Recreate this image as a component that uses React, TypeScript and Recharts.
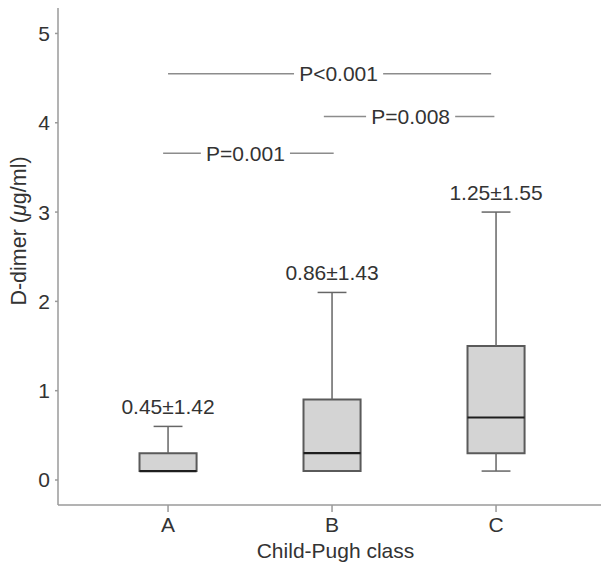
import React from 'react';
import {
  ComposedChart,
  XAxis,
  YAxis,
  Scatter,
  ReferenceArea,
  ReferenceLine,
} from 'recharts';

// Box plot summary per Child-Pugh class
const categories = ['A', 'B', 'C'];
const positions = [1, 2, 3];
const whiskerLow = [0.1, 0.1, 0.1];
const quartile1 = [0.1, 0.1, 0.3];
const medians = [0.1, 0.3, 0.7];
const quartile3 = [0.3, 0.9, 1.5];
const whiskerHigh = [0.6, 2.1, 3.0];
const meanSdLabels = ['0.45±1.42', '0.86±1.43', '1.25±1.55'];

const yTicks = [0, 1, 2, 3, 4, 5];

// significance brackets
const bracketLabels = ['P<0.001', 'P=0.008', 'P=0.001'];
const bracketFrom = [1.0, 1.95, 0.97];
const bracketTo = [2.97, 2.99, 2.01];
const bracketY = [4.55, 4.07, 3.66];

const FONT = '"Liberation Sans", Arial, Helvetica, sans-serif';
const TEXT = '#333333';
const AXIS = '#9a9a9a';
const BOX_FILL = '#d4d4d4';
const BOX_EDGE = '#5a5a5a';
const WHISKER = '#666666';
const BRACKET = '#8c8c8c';
const BOX_HALF = 0.174;
const CAP_HALF = 0.088;

const rows = positions.map((x, i) => ({ x, median: medians[i] }));

function YLabel() {
  const cx = 19;
  const cy = 231;
  return (
    <text
      x={cx}
      y={cy}
      transform={`rotate(-90, ${cx}, ${cy})`}
      textAnchor="middle"
      dominantBaseline="central"
      fill={TEXT}
      fontSize={21.5}
      fontFamily={FONT}
    >
      D-dimer (<tspan fontStyle="italic">μ</tspan>g/ml)
    </text>
  );
}

function bracketLabel(text: string, nudge: number) {
  return (props: any) => {
    const vb = props.viewBox || { x: 0, y: 0, width: 0 };
    const cx = vb.x + vb.width / 2 + nudge;
    const w = text.length * 11.3 + 10;
    return (
      <g>
        <rect x={cx - w / 2} y={vb.y - 3} width={w} height={6} fill="#ffffff" />
        <text
          x={cx}
          y={vb.y + 7.5}
          textAnchor="middle"
          fill={TEXT}
          fontSize={21}
          fontFamily={FONT}
        >
          {text}
        </text>
      </g>
    );
  };
}

const nudges = [9, 1.5, -3];

export default function App() {
  return (
    <div style={{ position: 'absolute', left: 0, top: 0, background: '#fff' }}>
      <ComposedChart
        width={601}
        height={564}
        data={rows}
        margin={{ top: 8, right: 0, bottom: 0, left: 0 }}
      >
        <XAxis
          dataKey="x"
          type="number"
          domain={[0.329, 3.64]}
          ticks={positions}
          allowDataOverflow
          tickFormatter={(v: number) => categories[positions.indexOf(v)] ?? ''}
          height={59}
          tickSize={7}
          tickMargin={5}
          axisLine={{ stroke: AXIS, strokeWidth: 1.5 }}
          tickLine={{ stroke: AXIS, strokeWidth: 1.5 }}
          tick={{ fill: TEXT, fontSize: 21, fontFamily: FONT }}
          label={{
            value: 'Child-Pugh class',
            position: 'insideBottom',
            offset: 6,
            dx: 6,
            fill: TEXT,
            fontSize: 21,
            fontFamily: FONT,
          }}
        />
        <YAxis
          type="number"
          domain={[-0.28, 5.285]}
          ticks={yTicks}
          allowDataOverflow
          width={58}
          tickSize={3}
          tickMargin={5}
          axisLine={{ stroke: AXIS, strokeWidth: 1.5 }}
          tickLine={{ stroke: AXIS, strokeWidth: 1.5 }}
          tick={{ fill: TEXT, fontSize: 21, fontFamily: FONT }}
          label={{ content: () => <YLabel /> }}
        />

        {/* whiskers */}
        {positions.map((x, i) => (
          <ReferenceLine
            key={`wu-${i}`}
            segment={[{ x, y: quartile3[i] }, { x, y: whiskerHigh[i] }]}
            stroke={WHISKER}
            strokeWidth={1.5}
          />
        ))}
        {positions.map((x, i) => (
          <ReferenceLine
            key={`cu-${i}`}
            segment={[
              { x: x - CAP_HALF, y: whiskerHigh[i] },
              { x: x + CAP_HALF, y: whiskerHigh[i] },
            ]}
            stroke={WHISKER}
            strokeWidth={1.5}
            label={{
              value: meanSdLabels[i],
              position: 'top',
              offset: 12,
              fill: TEXT,
              fontSize: 21,
              fontFamily: FONT,
            }}
          />
        ))}
        {positions.map((x, i) =>
          whiskerLow[i] < quartile1[i] ? (
            <ReferenceLine
              key={`wl-${i}`}
              segment={[{ x, y: quartile1[i] }, { x, y: whiskerLow[i] }]}
              stroke={WHISKER}
              strokeWidth={1.5}
            />
          ) : null
        )}
        {positions.map((x, i) =>
          whiskerLow[i] < quartile1[i] ? (
            <ReferenceLine
              key={`cl-${i}`}
              segment={[
                { x: x - CAP_HALF, y: whiskerLow[i] },
                { x: x + CAP_HALF, y: whiskerLow[i] },
              ]}
              stroke={WHISKER}
              strokeWidth={1.5}
            />
          ) : null
        )}

        {/* boxes */}
        {positions.map((x, i) => (
          <ReferenceArea
            key={`box-${i}`}
            x1={x - BOX_HALF}
            x2={x + BOX_HALF}
            y1={quartile1[i]}
            y2={quartile3[i]}
            fill={BOX_FILL}
            fillOpacity={1}
            stroke={BOX_EDGE}
            strokeWidth={2}
          />
        ))}

        {/* medians */}
        {positions.map((x, i) => (
          <ReferenceLine
            key={`med-${i}`}
            segment={[
              { x: x - BOX_HALF, y: medians[i] },
              { x: x + BOX_HALF, y: medians[i] },
            ]}
            stroke="#1e1e1e"
            strokeWidth={2.2}
          />
        ))}

        {/* significance brackets */}
        {bracketLabels.map((t, i) => (
          <ReferenceLine
            key={`br-${i}`}
            segment={[
              { x: bracketFrom[i], y: bracketY[i] },
              { x: bracketTo[i], y: bracketY[i] },
            ]}
            stroke={BRACKET}
            strokeWidth={1.5}
            label={{ content: bracketLabel(t, nudges[i]) }}
          />
        ))}

        <Scatter dataKey="median" isAnimationActive={false} shape={() => <g />} />
      </ComposedChart>
    </div>
  );
}
